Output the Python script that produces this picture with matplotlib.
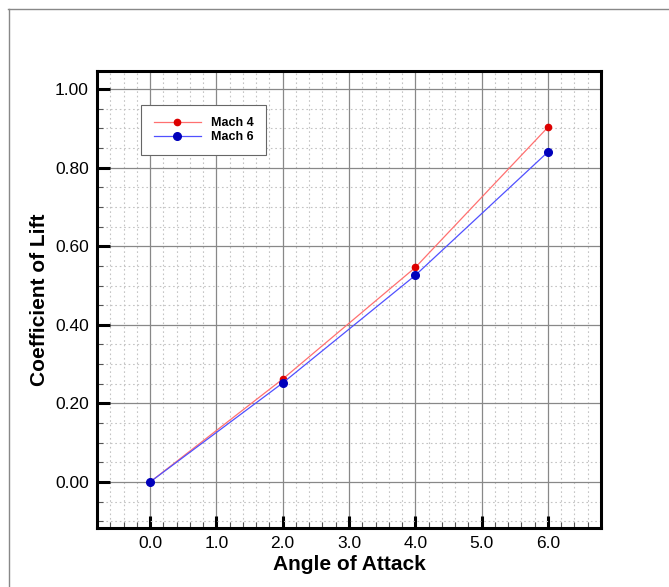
import numpy as np
import matplotlib.pyplot as plt
from matplotlib.lines import Line2D
from matplotlib.ticker import MultipleLocator, FormatStrFormatter

plt.rcParams['font.family'] = ['Liberation Sans', 'DejaVu Sans']

alpha = [0.0, 2.0, 4.0, 6.0]
cl_mach4 = [0.0, 0.262, 0.546, 0.903]
cl_mach6 = [0.0, 0.252, 0.526, 0.840]

fig = plt.figure(figsize=(6.69, 5.87), dpi=100)
ax = fig.add_axes([97/669, 59/587, 504/669, 457/587])

ax.plot(alpha, cl_mach4, color='#ff7070', lw=0.9, marker='o', ms=4.5,
        mfc='#dd0000', mec='#dd0000', label='Mach 4', zorder=3)
ax.plot(alpha, cl_mach6, color='#5050ff', lw=0.9, marker='o', ms=5.5,
        mfc='#0000bb', mec='#0000bb', label='Mach 6', zorder=3)

ax.set_xlim(-0.8, 6.8)
ax.set_ylim(-0.117, 1.046)
ax.xaxis.set_major_locator(MultipleLocator(1.0))
ax.xaxis.set_minor_locator(MultipleLocator(0.2))
ax.yaxis.set_major_locator(MultipleLocator(0.2))
ax.yaxis.set_minor_locator(MultipleLocator(0.05))
ax.xaxis.set_major_formatter(FormatStrFormatter('%.1f'))
ax.yaxis.set_major_formatter(FormatStrFormatter('%.2f'))

ax.grid(which='major', color='#888888', lw=0.9, ls='-')
ax.grid(which='minor', color='#c4c4c4', lw=0.8, ls=(0, (1.5, 2.5)))
ax.set_axisbelow(True)

ax.tick_params(which='major', direction='in', length=9, width=2.2,
               labelsize=12.5, pad=6)
ax.tick_params(which='minor', direction='in', length=4, width=0.8,
               color='#555555')
for s in ax.spines.values():
    s.set_linewidth(2.2)

ax.set_xlabel('Angle of Attack', fontsize=15, fontweight='bold', labelpad=3)
ax.set_ylabel('Coefficient of Lift', fontsize=15, fontweight='bold', labelpad=4)

leg = ax.legend(loc='upper left', bbox_to_anchor=(44/504, 1 - 33.5/457),
                prop={'weight': 'bold', 'size': 9},
                fancybox=False, framealpha=1, edgecolor='#666666',
                borderaxespad=0, handlelength=3.8, handletextpad=0.8,
                borderpad=1.0, labelspacing=0.15)
leg.get_frame().set_linewidth(0.8)

# outer frame lines on top and left edge
fig.add_artist(Line2D([8/669, 1], [1 - 9/587, 1 - 9/587], color='#888888', lw=1))
fig.add_artist(Line2D([9/669, 9/669], [0, 1 - 9/587], color='#888888', lw=1))

fig.savefig('out.png', dpi=100)
